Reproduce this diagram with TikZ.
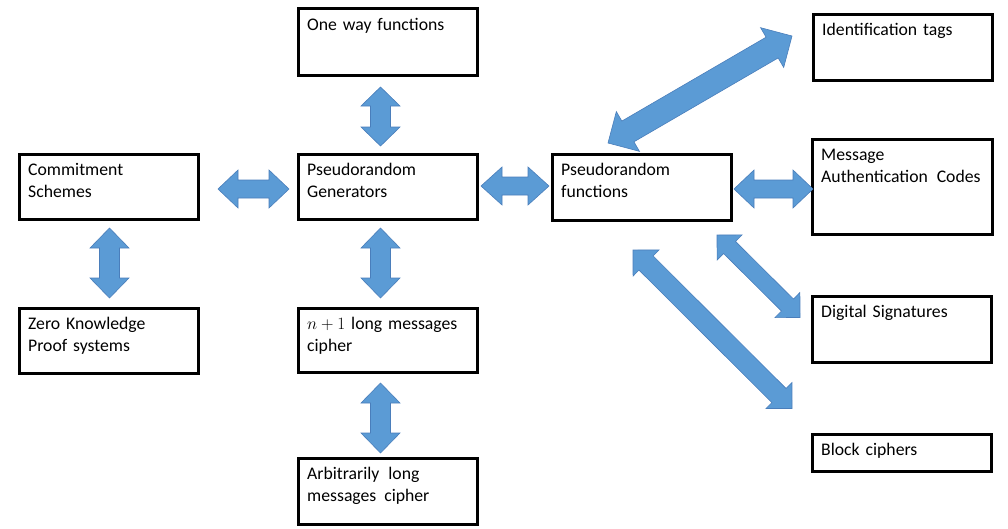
\documentclass[tikz,border=0pt]{standalone}
\usepackage{fontspec}
\setmainfont{Carlito}
\usetikzlibrary{calc}
\definecolor{arrowfill}{RGB}{91,155,213}
\definecolor{arrowline}{RGB}{74,126,187}
\tikzset{
  box/.style={draw=black, line width=2.6pt, rectangle, inner sep=0pt},
  boxtext/.style={anchor=base west, inner sep=0pt, text width=178pt, align=left,
    font=\fontsize{17.7pt}{22pt}\selectfont},
  blockarrow/.style={fill=arrowfill, draw=arrowline, line width=0.6pt, line join=miter}
}
% #1 from, #2 to, #3 head length, #4 head half width, #5 shaft half width
\newcommand\dblblock[5]{%
  \path[blockarrow] (#1)
    -- ($(#1)!#3!(#2)!#4!90:(#2)$)
    -- ($(#1)!#3!(#2)!#5!90:(#2)$)
    -- ($(#2)!#3!(#1)!#5!-90:(#1)$)
    -- ($(#2)!#3!(#1)!#4!-90:(#1)$)
    -- (#2)
    -- ($(#2)!#3!(#1)!#4!90:(#1)$)
    -- ($(#2)!#3!(#1)!#5!90:(#1)$)
    -- ($(#1)!#3!(#2)!#5!-90:(#2)$)
    -- ($(#1)!#3!(#2)!#4!-90:(#2)$)
    -- cycle;}
\begin{document}
\begin{tikzpicture}[x=1pt,y=-1pt]
\useasboundingbox (0,0) rectangle (1008,528);
% boxes (centre, size)
\node[box, minimum width=179.4pt, minimum height=65.4pt] (com) at (109,187) {};
\node[box, minimum width=179.4pt, minimum height=65.4pt] (zk)  at (109,341) {};
\node[box, minimum width=179.4pt, minimum height=67.4pt] (owf) at (388,42) {};
\node[box, minimum width=179.4pt, minimum height=65.4pt] (prg) at (388,187) {};
\node[box, minimum width=179.4pt, minimum height=64.4pt] (n1)  at (388,340.5) {};
\node[box, minimum width=179.4pt, minimum height=66.4pt] (arb) at (388,491.5) {};
\node[box, minimum width=179.4pt, minimum height=66.4pt] (prf) at (642,187.5) {};
\node[box, minimum width=179.4pt, minimum height=66.4pt] (idt) at (903,47.5) {};
\node[box, minimum width=180.4pt, minimum height=95.4pt] (mac) at (902.5,187) {};
\node[box, minimum width=179.4pt, minimum height=66.4pt] (ds)  at (902,329.5) {};
\node[box, minimum width=179.4pt, minimum height=37.4pt] (bc)  at (902,453) {};
% texts
\node[boxtext] (tcom) at (28,175) {Commitment\\Schemes};
\node[boxtext] (tzk)  at (28,329) {Zero Knowledge\\Proof systems};
\node[boxtext] (towf) at (307,30) {One way functions};
\node[boxtext] (tprg) at (307,175) {Pseudorandom\\Generators};
\node[boxtext] (tn1)  at (307,329) {$n+1$ long messages\\cipher};
\node[boxtext] (tarb) at (307,479) {Arbitrarily\hspace{3pt} long\\messages\hspace{2pt} cipher};
\node[boxtext] (tprf) at (561,175) {Pseudorandom\\functions};
\node[boxtext] (tidt) at (822,35) {Identification tags};
\node[boxtext] (tmac) at (821,160) {Message\\Authentication\hspace{3pt} Codes};
\node[boxtext] (tds)  at (821,317) {Digital Signatures};
\node[boxtext] (tbc)  at (821,455) {Block ciphers};
% arrow end points
\coordinate (a1) at (218,189);   \coordinate (b1) at (289,189);
\coordinate (a2) at (109.5,228); \coordinate (b2) at (109.5,298);
\coordinate (a3) at (380.5,87);  \coordinate (b3) at (380.5,146);
\coordinate (a4) at (380.5,228); \coordinate (b4) at (380.5,298);
\coordinate (a5) at (380.5,383); \coordinate (b5) at (380.5,453);
\coordinate (a6) at (481,186);   \coordinate (b6) at (549,186);
\coordinate (a7) at (734,189);   \coordinate (b7) at (813,189);
\coordinate (a8) at (608,143);   \coordinate (b8) at (792,36);
\coordinate (a9) at (717,235);   \coordinate (b9) at (800,317.5);
\coordinate (a10) at (633,250);  \coordinate (b10) at (792,408.5);
% arrows
\dblblock{a1}{b1}{20pt}{19pt}{9pt}
\dblblock{a2}{b2}{20pt}{19.5pt}{10pt}
\dblblock{a3}{b3}{19pt}{19.5pt}{10pt}
\dblblock{a4}{b4}{20pt}{19.5pt}{10pt}
\dblblock{a5}{b5}{20pt}{19.5pt}{10pt}
\dblblock{a6}{b6}{21pt}{19pt}{9pt}
\dblblock{a7}{b7}{20pt}{19pt}{9pt}
\dblblock{a8}{b8}{23pt}{23pt}{12pt}
\dblblock{a9}{b9}{17.7pt}{17.7pt}{8.5pt}
\dblblock{a10}{b10}{18.4pt}{18.4pt}{10pt}
\end{tikzpicture}
\end{document}
